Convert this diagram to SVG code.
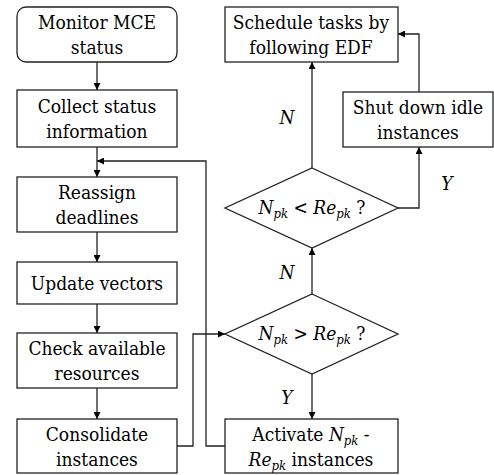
<svg xmlns="http://www.w3.org/2000/svg" width="494" height="475" viewBox="0 0 494 475">
<defs>
<marker id="ah" viewBox="0 0 10 10" refX="10" refY="5" markerWidth="7" markerHeight="7" markerUnits="userSpaceOnUse" orient="auto">
<path d="M0,0 L10,5 L0,10 z" fill="#000"/>
</marker>
<style>
.box{fill:#fff;stroke:#222;stroke-width:1.3}
.t{font-family:'DejaVu Serif Condensed','DejaVu Serif',serif;font-size:19px;fill:#000;text-anchor:middle}
.i{font-style:italic}
.s{font-size:13px}
.c{fill:none;stroke:#222;stroke-width:1.3;marker-end:url(#ah)}
</style>
</defs>
<rect width="494" height="475" fill="#fff"/>
<g id="connectors">
<path class="c" d="M97,62 V90"/>
<path class="c" d="M97,147 V177"/>
<path class="c" d="M225,446 H206 V161 H97"/>
<path class="c" d="M97,232 V262"/>
<path class="c" d="M97,304 V333"/>
<path class="c" d="M97,388 V419"/>
<path class="c" d="M177,446 H193 V334 H225"/>
<path class="c" d="M312,294 V248"/>
<path class="c" d="M312,374 V419"/>
<path class="c" d="M312,168 V62"/>
<path class="c" d="M398,208 H419 V147"/>
<path class="c" d="M419,92 V34 H398"/>
<text class="t i" x="287" y="124">N</text>
<text class="t i" x="447" y="190">Y</text>
<text class="t i" x="287" y="279">N</text>
<text class="t i" x="287" y="404">Y</text>
</g>
<g id="monitor">
<rect class="box" x="17" y="7" width="160" height="55" rx="9"/>
<text class="t" x="97" y="29">Monitor MCE</text>
<text class="t" x="97" y="54">status</text>
</g>
<g id="collect">
<rect class="box" x="17" y="90" width="160" height="57"/>
<text class="t" x="97" y="113">Collect status</text>
<text class="t" x="97" y="138">information</text>
</g>
<g id="reassign">
<rect class="box" x="17" y="177" width="160" height="55"/>
<text class="t" x="97" y="199">Reassign</text>
<text class="t" x="97" y="224">deadlines</text>
</g>
<g id="update">
<rect class="box" x="17" y="262" width="160" height="42"/>
<text class="t" x="97" y="290">Update vectors</text>
</g>
<g id="check">
<rect class="box" x="17" y="333" width="160" height="55"/>
<text class="t" x="97" y="355">Check available</text>
<text class="t" x="97" y="380">resources</text>
</g>
<g id="consolidate">
<rect class="box" x="17" y="419" width="160" height="54"/>
<text class="t" x="97" y="441">Consolidate</text>
<text class="t" x="97" y="466">instances</text>
</g>
<g id="schedule">
<rect class="box" x="225" y="7" width="173" height="55"/>
<text class="t" x="311" y="29">Schedule tasks by</text>
<text class="t" x="311" y="54">following EDF</text>
</g>
<g id="shutdown">
<rect class="box" x="343" y="92" width="150" height="55"/>
<text class="t" x="418" y="114">Shut down idle</text>
<text class="t" x="418" y="139">instances</text>
</g>
<g id="decision1">
<polygon class="box" points="312,168 398,208 312,248 225,208"/>
<text class="t" x="312" y="214"><tspan class="i">N</tspan><tspan class="i s" dy="4">pk</tspan><tspan dy="-4"> &lt; </tspan><tspan class="i">Re</tspan><tspan class="i s" dy="4">pk</tspan><tspan dy="-4"> ?</tspan></text>
</g>
<g id="decision2">
<polygon class="box" points="312,294 398,334 312,374 225,334"/>
<text class="t" x="312" y="340"><tspan class="i">N</tspan><tspan class="i s" dy="4">pk</tspan><tspan dy="-4"> &gt; </tspan><tspan class="i">Re</tspan><tspan class="i s" dy="4">pk</tspan><tspan dy="-4"> ?</tspan></text>
</g>
<g id="activate">
<rect class="box" x="225" y="419" width="173" height="54"/>
<text class="t" x="311" y="441">Activate <tspan class="i">N</tspan><tspan class="i s" dy="4">pk</tspan><tspan dy="-4"> -</tspan></text>
<text class="t" x="311" y="466"><tspan class="i">Re</tspan><tspan class="i s" dy="4">pk</tspan><tspan dy="-4"> instances</tspan></text>
</g>
</svg>
